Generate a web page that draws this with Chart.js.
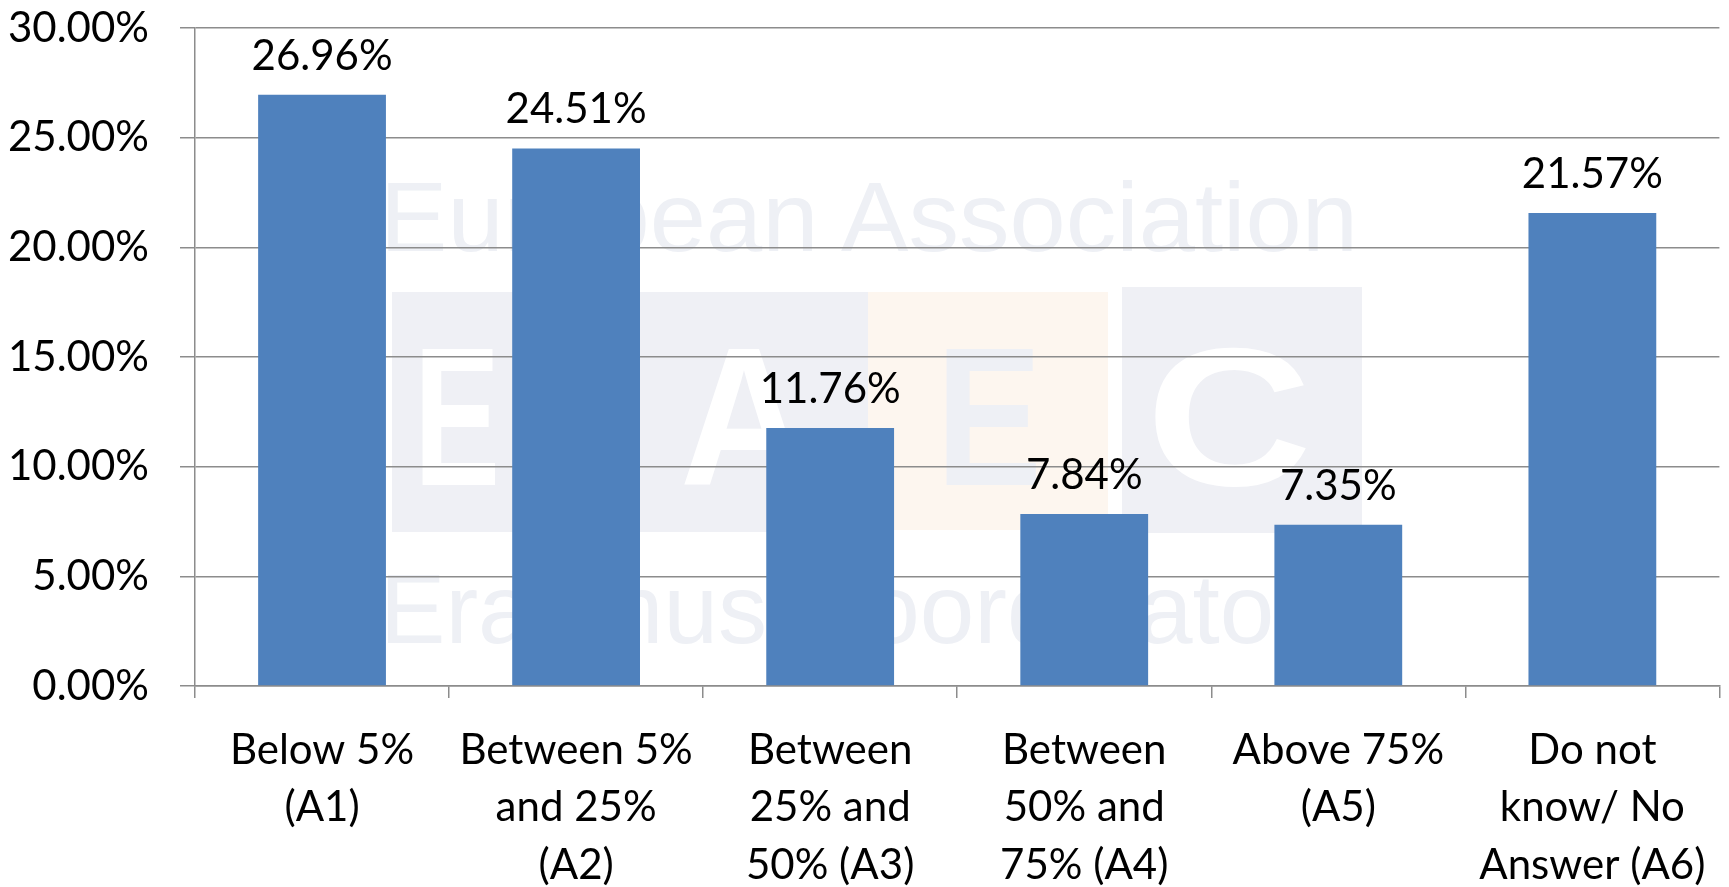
<!DOCTYPE html>
<html>
<head>
<meta charset="utf-8">
<script src="https://cdn.jsdelivr.net/npm/chart.js@4.4.0/dist/chart.umd.min.js"></script>
<style>
  html, body { margin: 0; padding: 0; background: #fff; overflow: hidden; }
  #wrap { position: relative; width: 1729px; height: 887px; }
  #mark { position: absolute; left: 0; top: 0; }
  #chart { position: absolute; left: 0; top: 0; }
</style>
</head>
<body>
<div id="wrap">
  <!-- faint logo in the background -->
  <svg id="mark" width="1729" height="887" viewBox="0 0 1729 887">
    <text x="380" y="251" font-family="Liberation Sans" font-size="98" fill="#eef0f5"
          textLength="978" lengthAdjust="spacingAndGlyphs">European Association</text>
    <rect x="392" y="292" width="476" height="240" fill="#eff0f5"/>
    <rect x="868" y="292" width="240" height="238" fill="#fdf6ef"/>
    <rect x="1122" y="287" width="240" height="246" fill="#eff0f5"/>
    <text x="414" y="485" font-family="Liberation Sans" font-weight="bold" font-size="196" fill="#ffffff"
          textLength="86" lengthAdjust="spacingAndGlyphs">E</text>
    <text x="680" y="485" font-family="Liberation Sans" font-weight="bold" font-size="196" fill="#ffffff"
          textLength="128" lengthAdjust="spacingAndGlyphs">A</text>
    <text x="936" y="485" font-family="Liberation Sans" font-weight="bold" font-size="196" fill="#eef0f5"
          textLength="106" lengthAdjust="spacingAndGlyphs">E</text>
    <text x="1146" y="485" font-family="Liberation Sans" font-weight="bold" font-size="196" fill="#ffffff"
          textLength="166" lengthAdjust="spacingAndGlyphs">C</text>
    <text x="380" y="643" font-family="Liberation Sans" font-size="98" fill="#eef0f5"
          textLength="976" lengthAdjust="spacingAndGlyphs">Erasmus Coordinators</text>
  </svg>
  <canvas id="chart" width="1729" height="887"></canvas>
</div>
<script>
// categories and values
const categories = [
    ['Below 5%', '(A1)'],
    ['Between 5%', 'and 25%', '(A2)'],
    ['Between', '25% and', '50% (A3)'],
    ['Between', '50% and', '75% (A4)'],
    ['Above 75%', '(A5)'],
    ['Do not', 'know/ No', 'Answer (A6)']
];
const values = [26.96, 24.51, 11.76, 7.84, 7.35, 21.57];
const yTicks = [0, 5, 10, 15, 20, 25, 30];

const FONT = 'Lato';
const gridGray = '#8c8c8c';

// labels above the bars
const valueLabels = {
    id: 'valueLabels',
    afterDatasetsDraw(chart) {
        const ctx = chart.ctx;
        const meta = chart.getDatasetMeta(0);
        ctx.save();
        ctx.font = '42px ' + FONT;
        ctx.fillStyle = '#000';
        ctx.textAlign = 'center';
        ctx.textBaseline = 'alphabetic';
        meta.data.forEach(function (bar, i) {
            ctx.fillText(values[i].toFixed(2) + '%', bar.x, bar.y - 25);
        });
        ctx.restore();
    }
};

let ctx = document.getElementById('chart').getContext('2d');
let chart = new Chart(ctx, {
    type: 'bar',
    data: {
        labels: categories,
        datasets: [{
            data: values,
            backgroundColor: '#4f81bd',
            barPercentage: 0.503,
            categoryPercentage: 1
        }]
    },
    options: {
        responsive: false,
        animation: false,
        layout: { padding: { left: 0, top: 0, right: 7, bottom: 0 } },
        plugins: {
            legend: { display: false },
            tooltip: { enabled: false }
        },
        scales: {
            x: {
                grid: {
                    offset: true,
                    drawOnChartArea: false,
                    drawTicks: true,
                    tickLength: 12,
                    color: gridGray,
                    lineWidth: 1.5
                },
                border: { color: gridGray, width: 1.5 },
                ticks: {
                    color: '#000',
                    padding: 23,
                    maxRotation: 0,
                    autoSkip: false,
                    font: { family: FONT, size: 42, lineHeight: 1.38 }
                },
                afterFit: function (s) { s.height = 201; }
            },
            y: {
                min: 0,
                max: 30,
                afterBuildTicks: function (s) { s.ticks = yTicks.map(v => ({ value: v })); },
                grid: {
                    color: gridGray,
                    lineWidth: 1.5,
                    tickLength: 15
                },
                border: { color: gridGray, width: 1.5 },
                ticks: {
                    color: '#000',
                    padding: 31,
                    font: { family: FONT, size: 42 },
                    callback: function (v) { return v.toFixed(2) + '%'; }
                },
                afterFit: function (s) {
                    s.width = 195;
                    s.paddingTop = 28;
                    s.paddingBottom = 0;
                }
            }
        }
    },
    plugins: [valueLabels]
});
</script>
</body>
</html>
